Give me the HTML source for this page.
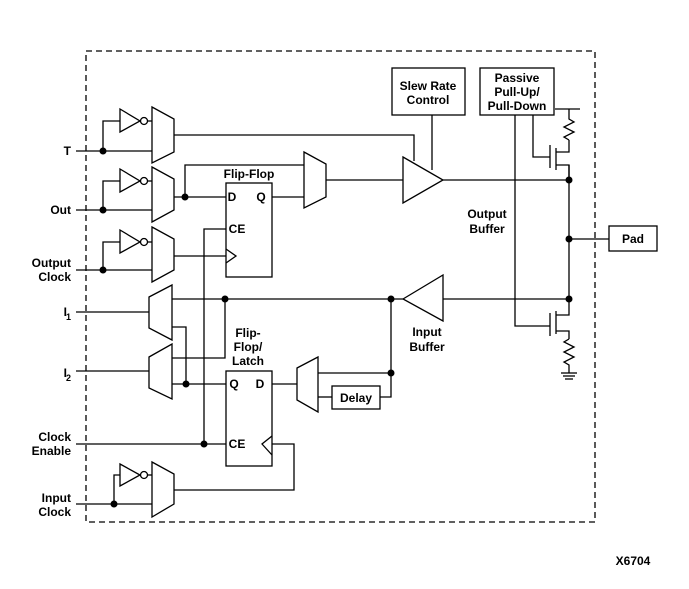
<!DOCTYPE html>
<html><head><style>
html,body{margin:0;padding:0;background:#fff;}
svg{display:block;}
text{font-family:"Liberation Sans",Arial,sans-serif;font-weight:bold;font-size:12px;fill:#000;}
</style></head><body>
<svg width="689" height="589" viewBox="0 0 689 589" xmlns="http://www.w3.org/2000/svg">
<g fill="none" stroke="#000" stroke-width="1.3">
<rect x="86" y="51" width="509" height="471" stroke-dasharray="6,4"/>
<!-- T -->
<polyline points="76,151 152,151"/>
<polyline points="103,151 103,121 120,121"/>
<polygon points="120,109 140,121 120,132"/>
<circle cx="144" cy="121" r="3.5"/>
<polyline points="147.5,121 152,121"/>
<polygon points="152,107 174,119 174,152 152,163"/>
<polyline points="174,135 414,135 414,161"/>
<!-- Out -->
<polyline points="76,210 152,210"/>
<polyline points="103,210 103,181 120,181"/>
<polygon points="120,169 140,181 120,192"/>
<circle cx="144" cy="181" r="3.5"/>
<polyline points="147.5,181 152,181"/>
<polygon points="152,167 174,179 174,210 152,222"/>
<polyline points="174,197 226,197"/>
<polyline points="185,197 185,165 304,165"/>
<polygon points="304,152 326,164 326,197 304,208"/>
<polyline points="272,197 304,197"/>
<polyline points="326,180 403,180"/>
<rect x="226" y="183" width="46" height="94"/>
<polyline points="226,249 236,256 226,263"/>
<polyline points="204,444 204,229 226,229"/>
<!-- Output clock -->
<polyline points="76,270 152,270"/>
<polyline points="103,270 103,242 120,242"/>
<polygon points="120,230 140,242 120,253"/>
<circle cx="144" cy="242" r="3.5"/>
<polyline points="147.5,242 152,242"/>
<polygon points="152,227 174,239 174,270 152,282"/>
<polyline points="174,256 226,256"/>
<!-- Output buffer -->
<rect x="392" y="68" width="73" height="47"/>
<polyline points="432,115 432,170"/>
<polygon points="403,157 443,180 403,203"/>
<polyline points="443,180 569,180"/>
<rect x="480" y="68" width="74" height="47"/>
<polyline points="533,115 533,157 550,157"/>
<polyline points="515,115 515,326 550,326"/>
<!-- upper transistor -->
<polyline points="550,145 550,168"/>
<polyline points="556,148 556,170"/>
<polyline points="556,152 569,152 569,140"/>
<polyline points="569,140 564,137 574,132 564,127 574,122 569,119 569,109"/>
<polyline points="556,165 569,165 569,180"/>
<polyline points="555,109 580,109"/>
<polyline points="569,165 569,299"/>
<polyline points="569,239 609,239"/>
<rect x="609" y="226" width="48" height="25"/>
<!-- lower transistor -->
<polyline points="550,313 550,336"/>
<polyline points="556,311 556,334"/>
<polyline points="556,315 569,315 569,299"/>
<polyline points="556,331 569,331 569,339"/>
<polyline points="569,339 564,342 574,347 564,352 574,357 564,362 569,365 569,373"/>
<polyline points="561,373 577,373"/><polyline points="563,376 575,376"/><polyline points="565,379 573,379"/>
<!-- Input buffer -->
<polygon points="403,299 443,275 443,321"/>
<polyline points="443,299 569,299"/>
<polyline points="172,299 403,299"/>
<!-- I1 -->
<polyline points="76,312 149,312"/>
<polygon points="149,297 172,285 172,340 149,328"/>
<polyline points="172,327 186,327 186,384"/>
<!-- I2 -->
<polyline points="76,371 149,371"/>
<polygon points="149,357 172,344 172,399 149,388"/>
<polyline points="172,358 225,358 225,299"/>
<polyline points="172,384 226,384"/>
<rect x="226" y="371" width="46" height="95"/>
<polyline points="272,436 262,444 272,455"/>
<polyline points="272,384 297,384"/>
<polygon points="297,368 318,357 318,412 297,400"/>
<polyline points="318,373 391,373"/>
<polyline points="318,397 332,397"/>
<rect x="332" y="386" width="48" height="23"/>
<polyline points="380,397 391,397 391,299"/>
<!-- Clock enable -->
<polyline points="76,444 226,444"/>
<!-- Input clock -->
<polyline points="76,504 152,504"/>
<polyline points="114,504 114,475 120,475"/>
<polygon points="120,464 140,475 120,486"/>
<circle cx="144" cy="475" r="3.5"/>
<polyline points="147.5,475 152,475"/>
<polygon points="152,462 174,474 174,504 152,517"/>
<polyline points="174,490 294,490 294,444 272,444"/>
</g>
<g fill="#000">
<circle cx="103" cy="151" r="3.5"/><circle cx="103" cy="210" r="3.5"/><circle cx="103" cy="270" r="3.5"/>
<circle cx="185" cy="197" r="3.5"/><circle cx="114" cy="504" r="3.5"/><circle cx="204" cy="444" r="3.5"/>
<circle cx="225" cy="299" r="3.5"/><circle cx="186" cy="384" r="3.5"/>
<circle cx="391" cy="299" r="3.5"/><circle cx="391" cy="373" r="3.5"/>
<circle cx="569" cy="180" r="3.5"/><circle cx="569" cy="239" r="3.5"/><circle cx="569" cy="299" r="3.5"/>
</g>
<g text-anchor="end">
<text x="71" y="155">T</text>
<text x="71" y="214">Out</text>
<text x="71" y="267">Output</text><text x="71" y="281">Clock</text>
<text x="67" y="316">I</text><text x="71" y="320" style="font-size:9px">1</text>
<text x="67" y="377">I</text><text x="71" y="381" style="font-size:9px">2</text>
<text x="71" y="441">Clock</text><text x="71" y="455">Enable</text>
<text x="71" y="502">Input</text><text x="71" y="516">Clock</text>
</g>
<g text-anchor="middle">
<text x="249" y="178">Flip-Flop</text>
<text x="232" y="201">D</text><text x="261" y="201">Q</text>
<text x="237" y="233">CE</text>
<text x="248" y="337">Flip-</text><text x="248" y="351">Flop/</text><text x="248" y="365">Latch</text>
<text x="234" y="388">Q</text><text x="260" y="388">D</text>
<text x="237" y="448">CE</text>
<text x="356" y="402">Delay</text>
<text x="428" y="90">Slew Rate</text><text x="428" y="104">Control</text>
<text x="517" y="82">Passive</text><text x="517" y="96">Pull-Up/</text><text x="517" y="110">Pull-Down</text>
<text x="487" y="218">Output</text><text x="487" y="233">Buffer</text>
<text x="427" y="336">Input</text><text x="427" y="351">Buffer</text>
<text x="633" y="243">Pad</text>
<text x="633" y="565">X6704</text>
</g>
</svg>
</body></html>
